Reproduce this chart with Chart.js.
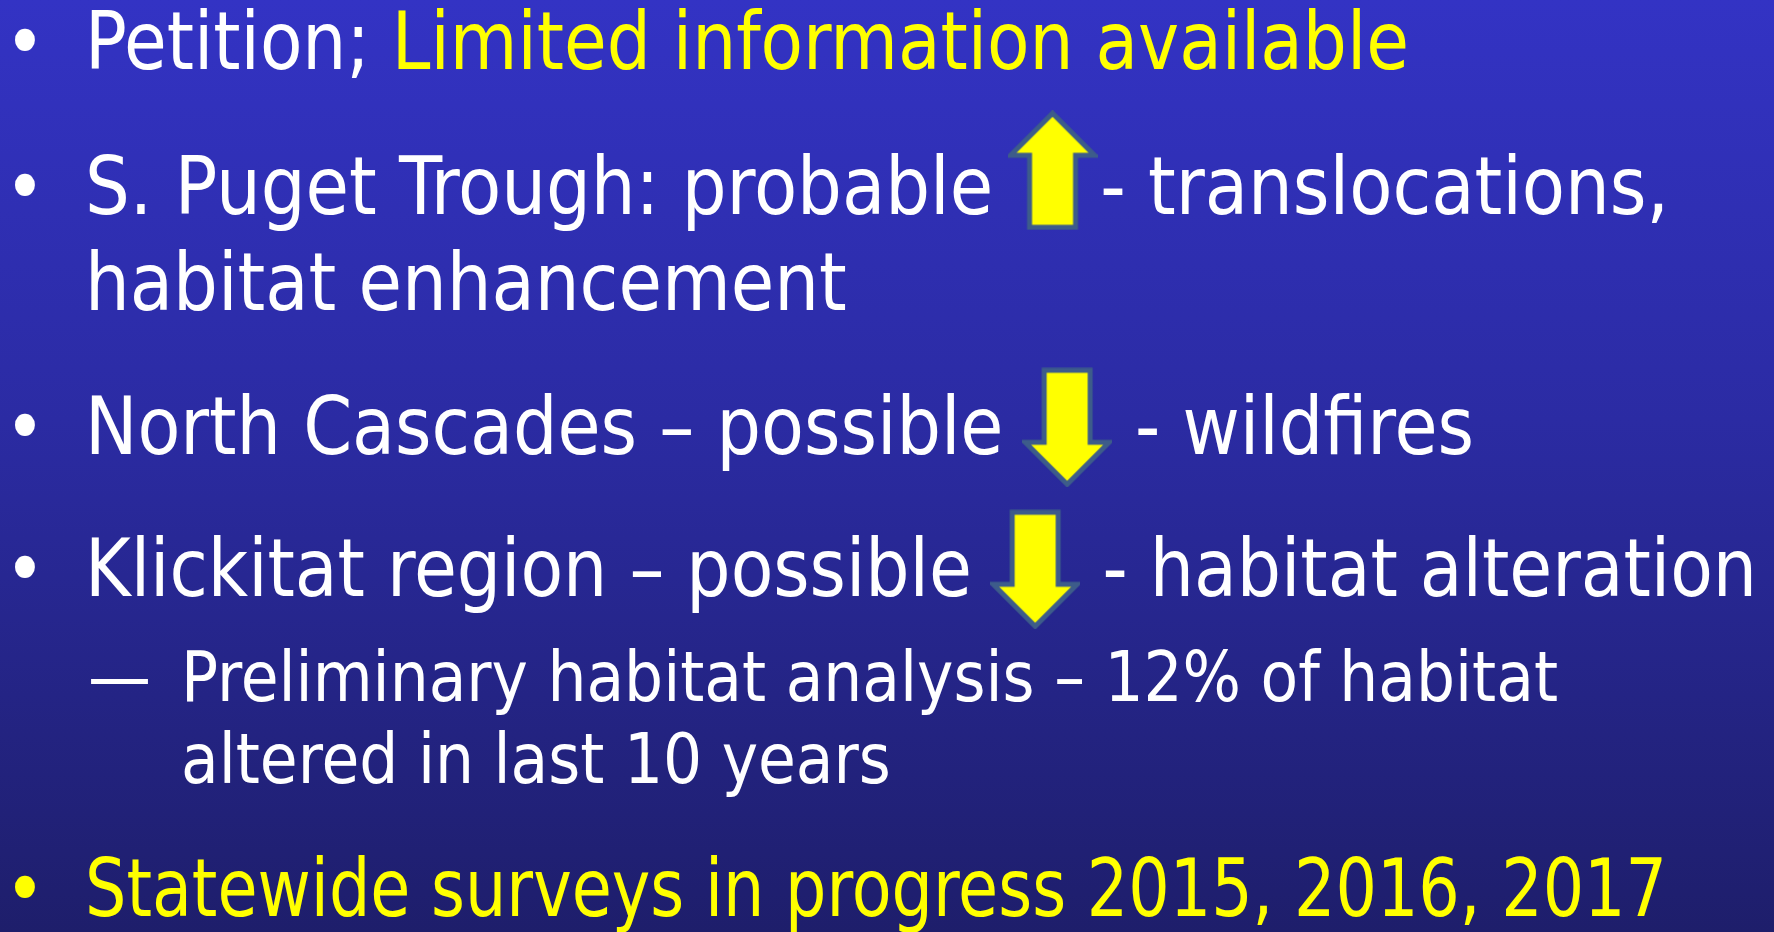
<!DOCTYPE html>
<html>
<head>
<meta charset="utf-8">
<script src="https://cdn.jsdelivr.net/npm/chart.js@4.4.1/dist/chart.umd.min.js"></script>
<style>
html,body{margin:0;padding:0;width:1774px;height:932px;overflow:hidden;}
body{background:linear-gradient(180deg,#3333C4 0%,#2B2BA3 45%,#1E1E6B 100%);}
#slide{position:absolute;left:0;top:0;width:1774px;height:932px;font-family:'DejaVu Sans Condensed','DejaVu Sans',sans-serif;color:#ffffff;}
#text{position:absolute;left:0;top:-5.7px;width:1900px;}
#text p{margin:0;position:relative;white-space:pre;}
#text p.l1{font-size:80px;line-height:96px;padding-left:85px;}
#text p.l2{font-size:70px;line-height:82px;padding-left:181px;}
.mark{position:absolute;top:0;text-align:center;}
.l1 .mark{left:0;width:50px;font-size:76px;}
.l2 .mark{left:88px;width:53px;}
.body{display:inline-block;transform-origin:0 0;}
.hl{color:#FFFF00;}
.slot{display:inline-block;height:1px;vertical-align:baseline;}
#overlay{position:absolute;left:0;top:0;width:1774px;height:932px;pointer-events:none;}
</style>
</head>
<body>
<div id="slide">
  <div id="text"></div>
  <canvas id="overlay" width="1774" height="932"></canvas>
</div>
<script>
// ---- slide content ----
const levels = [1, 1, 1, 1, 2, 1];
const leadTexts = [
  "Petition; ",
  "S. Puget Trough: probable",
  "North Cascades \u2013 possible",
  "Klickitat region \u2013 possible",
  "Preliminary habitat analysis \u2013 12% of habitat\naltered in last 10 years",
  ""
];
const trendArrows = [null, "up", "down", "down", null, null];
const tailTexts = [
  "",
  "- translocations,\nhabitat enhancement",
  "- wildfires",
  "- habitat alteration",
  "",
  ""
];
const highlightTexts = [
  "Limited information available",
  "",
  "",
  "",
  "",
  "Statewide surveys in progress 2015, 2016, 2017"
];

// ---- layout/style (not data) ----
const gapsBefore = [0, 49, 48, 46, 18.5, 41.5];
const firstLineRightEdge = [1409, 1669, 1474, 1757, 1558, 1667];
const arrowMargins = { up: [15, 3], down: [20, 24] };
const arrowYOffset = { up: -44, down: -27 };

const textBox = document.getElementById('text');
const slots = [];
const bodies = [];
levels.forEach((lvl, i) => {
  const p = document.createElement('p');
  p.className = 'l' + lvl;
  p.style.marginTop = gapsBefore[i] + 'px';
  const mark = document.createElement('span');
  mark.className = 'mark';
  mark.textContent = lvl === 1 ? '\u2022' : '\u2014';
  if (lvl === 1 && !leadTexts[i] && highlightTexts[i]) mark.classList.add('hl');
  p.appendChild(mark);
  const body = document.createElement('span');
  body.className = 'body';
  if (leadTexts[i]) body.appendChild(document.createTextNode(leadTexts[i]));
  if (trendArrows[i]) {
    const s = document.createElement('span');
    s.className = 'slot';
    const m = arrowMargins[trendArrows[i]];
    s.style.width = '91px';
    s.style.marginLeft = m[0] + 'px';
    s.style.marginRight = m[1] + 'px';
    body.appendChild(s);
    slots.push({ el: s, dir: trendArrows[i] });
  }
  if (tailTexts[i]) body.appendChild(document.createTextNode(tailTexts[i]));
  if (highlightTexts[i]) {
    const h = document.createElement('span');
    h.className = 'hl';
    h.textContent = highlightTexts[i];
    body.appendChild(h);
  }
  p.appendChild(body);
  bodies.push(body);
  textBox.appendChild(p);
});

function makeArrow() {
  const w = 90, h = 120, shaft = 46, head = 42, lw = 5;
  const c = document.createElement('canvas');
  c.width = w; c.height = h;
  const g = c.getContext('2d');
  const pad = lw / 2 + 0.5;
  g.beginPath();
  g.moveTo(w / 2, pad);
  g.lineTo(w - pad, pad + head);
  g.lineTo(w / 2 + shaft / 2, pad + head);
  g.lineTo(w / 2 + shaft / 2, h - pad);
  g.lineTo(w / 2 - shaft / 2, h - pad);
  g.lineTo(w / 2 - shaft / 2, pad + head);
  g.lineTo(pad, pad + head);
  g.closePath();
  g.fillStyle = '#FFFF00';
  g.fill();
  g.lineWidth = lw;
  g.lineJoin = 'miter';
  g.strokeStyle = '#3D5C8A';
  g.stroke();
  return c;
}

function build() {
  // fit the substitute font horizontally to the original's line widths
  bodies.forEach((b, i) => {
    const r = document.createRange();
    r.selectNodeContents(b);
    const rects = Array.from(r.getClientRects()).filter(q => q.width > 0 && q.height > 20);
    if (!rects.length) return;
    const top0 = Math.min(...rects.map(q => q.top));
    const right = Math.max(...rects.filter(q => q.top < top0 + 30).map(q => q.right));
    const left = b.getBoundingClientRect().left;
    const k = (firstLineRightEdge[i] - left) / (right - left);
    b.style.transform = 'scaleX(' + k + ')';
  });

  const arrowImg = makeArrow();
  const canvas = document.getElementById('overlay');
  const chart = new Chart(canvas, {
    type: 'scatter',
    data: {
      datasets: [{
        data: [],
        pointStyle: slots.map(() => arrowImg),
        rotation: slots.map(s => s.dir === 'up' ? 0 : 180),
        pointRadius: 40,
        showLine: false,
        clip: false
      }]
    },
    options: {
      responsive: false,
      maintainAspectRatio: false,
      animation: false,
      events: [],
      layout: { padding: 0, autoPadding: false },
      plugins: { legend: { display: false }, tooltip: { enabled: false } },
      scales: {
        x: { type: 'linear', min: 0, max: 1774, display: false },
        y: { type: 'linear', min: 0, max: 932, reverse: true, display: false }
      }
    }
  });
  // anchor each arrow to its slot in the text, via the chart's own scales
  const place = () => {
    const cr = canvas.getBoundingClientRect();
    chart.data.datasets[0].data = slots.map(s => {
      const r = s.el.getBoundingClientRect();
      const px = r.left + r.width / 2 - cr.left;
      const py = r.bottom + arrowYOffset[s.dir] - cr.top;
      return { x: chart.scales.x.getValueForPixel(px), y: chart.scales.y.getValueForPixel(py) };
    });
    chart.update('none');
  };
  place();
  place();
}
if (document.fonts && document.fonts.ready) document.fonts.ready.then(build); else build();
</script>
</body>
</html>
